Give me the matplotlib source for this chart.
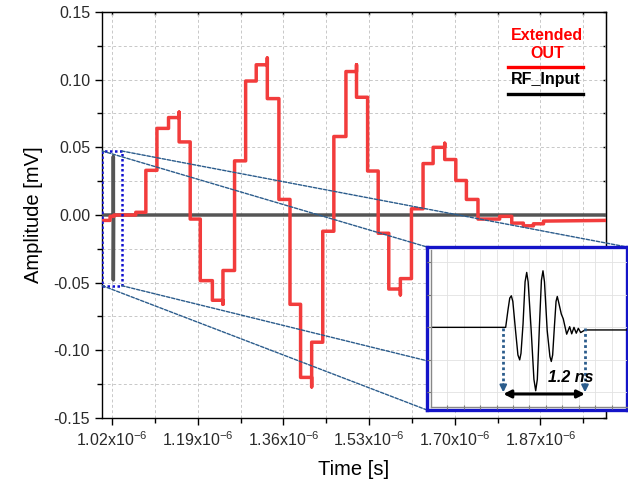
import numpy as np
import matplotlib.pyplot as plt
from matplotlib.ticker import FixedLocator, FormatStrFormatter, NullFormatter
from matplotlib.patches import Rectangle, ConnectionPatch

plt.rcParams['font.family'] = ['Liberation Sans', 'DejaVu Sans']
plt.rcParams['mathtext.fontset'] = 'custom'
plt.rcParams['mathtext.rm'] = 'Liberation Sans'
plt.rcParams['mathtext.default'] = 'regular'
plt.rcParams['axes.unicode_minus'] = False

# Extended OUT (step waveform), time in us, amplitude in mV
out_t = [1.000, 1.016, 1.016, 1.024, 1.024, 1.067, 1.067, 1.087, 1.087, 1.109,
         1.109, 1.132, 1.132, 1.153, 1.153, 1.153, 1.175, 1.175, 1.195, 1.195,
         1.219, 1.219, 1.240, 1.240, 1.240, 1.263, 1.263, 1.285, 1.285, 1.306,
         1.306, 1.328, 1.328, 1.328, 1.351, 1.351, 1.373, 1.373, 1.394, 1.394,
         1.416, 1.416, 1.416, 1.438, 1.438, 1.460, 1.460, 1.484, 1.484, 1.505,
         1.505, 1.505, 1.527, 1.527, 1.548, 1.548, 1.569, 1.569, 1.592, 1.592,
         1.592, 1.614, 1.614, 1.637, 1.637, 1.657, 1.657, 1.680, 1.680, 1.680,
         1.702, 1.702, 1.723, 1.723, 1.746, 1.746, 1.789, 1.789, 1.813, 1.813,
         1.836, 1.836, 1.856, 1.856, 1.876, 1.876, 2.000]
out_v = [-0.004, -0.004, -0.001, -0.001, 0.000, 0.000, 0.002, 0.002, 0.033, 0.033,
         0.064, 0.064, 0.072, 0.072, 0.076, 0.054, 0.054, -0.003, -0.003, -0.0485,
         -0.0485, -0.063, -0.063, -0.066, -0.041, -0.041, 0.040, 0.040, 0.099, 0.099,
         0.111, 0.111, 0.116, 0.086, 0.086, 0.0115, 0.0115, -0.066, -0.066, -0.120,
         -0.120, -0.127, -0.094, -0.094, -0.012, -0.012, 0.058, 0.058, 0.106, 0.106,
         0.111, 0.087, 0.087, 0.0325, 0.0325, -0.0135, -0.0135, -0.0547, -0.0547, -0.059,
         -0.047, -0.047, 0.0046, 0.0046, 0.038, 0.038, 0.050, 0.050, 0.053, 0.041,
         0.041, 0.0255, 0.0255, 0.0115, 0.0115, -0.003, -0.003, -0.001, -0.001, -0.006,
         -0.006, -0.008, -0.008, -0.0065, -0.0065, -0.0045, -0.004]

# RF input (compressed pulse at this time scale)
rf_t = [1.000, 1.0225, 1.0225, 1.0225, 1.0230, 2.000]
rf_v = [0.0, 0.0, 0.043, -0.048, 0.0, 0.0]

# zoom box around the RF pulse
box_t = [1.0005, 1.039]
box_v = [-0.0522, 0.0473]

# inset: RF pulse in ns, arbitrary units
pulse_t = [-1.07, 0.035, 0.07, 0.095, 0.118, 0.14, 0.18, 0.215, 0.241, 0.26,
           0.29, 0.32, 0.344, 0.365, 0.41, 0.45, 0.476, 0.50, 0.53, 0.56,
           0.583, 0.605, 0.645, 0.685, 0.705, 0.725, 0.75, 0.775, 0.793, 0.81,
           0.852, 0.881, 0.931, 0.975, 1.005, 1.038, 1.072, 1.102, 1.137, 1.20, 1.82]
pulse_v = [0.0, 0.0, 0.55, 0.90, 0.97, 0.80, -0.10, -0.85, -1.00, -0.80,
           0.10, 1.40, 1.69, 1.40, -0.10, -1.60, -1.95, -1.60, 0.00, 1.45,
           1.74, 1.40, -0.10, -0.90, -1.05, -0.85, 0.00, 0.80, 0.95, 0.80,
           0.41, 0.26, -0.21, 0.02, -0.20, 0.00, -0.18, -0.03, -0.16, -0.08, -0.08]
pulse_width = 1.2

xticks = [1.02e-6, 1.19e-6, 1.36e-6, 1.53e-6, 1.70e-6, 1.87e-6]
xlabels = [r'1.02x10$^{-6}$', r'1.19x10$^{-6}$', r'1.36x10$^{-6}$',
           r'1.53x10$^{-6}$', r'1.70x10$^{-6}$', r'1.87x10$^{-6}$']
xminor = [1.105e-6, 1.275e-6, 1.445e-6, 1.615e-6, 1.785e-6, 1.955e-6]
yticks = [-0.15, -0.10, -0.05, 0.00, 0.05, 0.10, 0.15]
yminor = [-0.125, -0.075, -0.025, 0.025, 0.075, 0.125]

fig = plt.figure(figsize=(6.28, 4.86), dpi=100)
ax = fig.add_axes([102/628, 68/486, 504/628, 406/486])

ax.plot(np.array(rf_t) * 1e-6, rf_v, color='#555555', lw=2.5, zorder=3)
ax.plot(np.array(out_t) * 1e-6, out_v, color='#f23c3c', lw=2.5, zorder=4)

ax.set_xlim(1.0e-6, 2.0e-6)
ax.set_ylim(-0.15, 0.15)
ax.xaxis.set_major_locator(FixedLocator(xticks))
ax.set_xticklabels(xlabels)
ax.xaxis.set_minor_locator(FixedLocator(xminor))
ax.yaxis.set_major_locator(FixedLocator(yticks))
ax.yaxis.set_minor_locator(FixedLocator(yminor))
ax.yaxis.set_major_formatter(FormatStrFormatter('%.2f'))
ax.tick_params(which='major', direction='out', length=5, width=1, labelsize=11.5,
               labelcolor='#2a2a2a')
ax.tick_params(which='minor', direction='out', length=3.5, width=1)
ax.grid(True, which='both', color='#c8c8c8', linestyle=(0, (3, 2.5)), lw=0.7)
for s in ax.spines.values():
    s.set_linewidth(1.0)

secx = ax.secondary_xaxis('top')
secx.xaxis.set_major_locator(FixedLocator(xticks))
secx.xaxis.set_minor_locator(FixedLocator(xminor))
secx.xaxis.set_major_formatter(NullFormatter())
secx.tick_params(which='both', direction='in', length=2.5, width=1)
secy = ax.secondary_yaxis('right')
secy.yaxis.set_major_locator(FixedLocator(yticks))
secy.yaxis.set_minor_locator(FixedLocator(yminor))
secy.yaxis.set_major_formatter(NullFormatter())
secy.tick_params(which='both', direction='in', length=2.5, width=1)

ax.set_xlabel('Time [s]', fontsize=14.5, labelpad=8)
ax.set_ylabel('Amplitude [mV]', fontsize=14.5, labelpad=8)

# legend in Origin style (text above line)
ax.text(0.883, 0.943, 'Extended', color='#ff0000', fontsize=11.5, fontweight='bold',
        ha='center', va='center', transform=ax.transAxes)
ax.text(0.883, 0.898, 'OUT', color='#ff0000', fontsize=11.5, fontweight='bold',
        ha='center', va='center', transform=ax.transAxes)
ax.plot([0.805, 0.955], [0.865, 0.865], color='#ff0000', lw=2.4, transform=ax.transAxes)
ax.text(0.881, 0.833, 'RF_Input', color='black', fontsize=11.5, fontweight='bold',
        ha='center', va='center', transform=ax.transAxes)
ax.plot([0.805, 0.955], [0.797, 0.797], color='black', lw=2.4, transform=ax.transAxes)

# dotted zoom box
ax.add_patch(Rectangle((box_t[0] * 1e-6, box_v[0]), (box_t[1] - box_t[0]) * 1e-6,
                       box_v[1] - box_v[0], fill=False, ec='#1010d0', lw=1.8,
                       linestyle=(0, (1, 1)), zorder=5))

# inset frame
axz = fig.add_axes([427/628, 76/486, 200/628, 163/486], zorder=10)
axz.set_xticks([])
axz.set_yticks([])
for s in axz.spines.values():
    s.set_color('#1414c8')
    s.set_linewidth(2.4)

corners = [((box_t[0], box_v[1]), (0, 1)), ((box_t[1], box_v[1]), (1, 1)),
           ((box_t[0], box_v[0]), (0, 0)), ((box_t[1], box_v[0]), (1, 0))]
for (bt, bv), cb in corners:
    con = ConnectionPatch(xyA=(bt * 1e-6, bv), coordsA=ax.transData,
                          xyB=cb, coordsB=axz.transAxes, color='#2b5c8c',
                          lw=1.0, linestyle=(0, (2.5, 1.2)), zorder=6)
    ax.add_artist(con)

# inset plot
axi = fig.add_axes([430.7/628, 78.7/486, 196.3/628, 157.3/486], zorder=11)
axi.patch.set_alpha(0)
axi.plot(pulse_t, pulse_v, color='black', lw=1.0)
axi.set_xlim(-1.066, 1.817)
axi.set_ylim(-2.46, 2.38)
axi.xaxis.set_major_locator(FixedLocator(np.arange(-0.82, 1.8, 0.241)))
axi.yaxis.set_major_locator(FixedLocator([-2, -1, 0, 1, 2]))
axi.set_xticklabels([])
axi.set_yticklabels([])
axi.tick_params(axis='y', direction='out', length=3, color='#777777')
axi.tick_params(axis='x', direction='inout', length=3, color='#777777')
axi.grid(True, color='#e2e2e2', lw=0.6)
for side in ['top', 'right']:
    axi.spines[side].set_visible(False)
for side in ['left', 'bottom']:
    axi.spines[side].set_color('#888888')
    axi.spines[side].set_linewidth(1.0)

# 1.2 ns markers
for tm in [0.0, pulse_width]:
    axi.plot([tm, tm], [-0.02, -1.8], color='#2b5c8c', lw=2, linestyle=(0, (1, 1)))
    axi.annotate('', xy=(tm, -2.0), xytext=(tm, -1.75),
                 arrowprops=dict(arrowstyle='-|>', color='#2b5c8c', lw=1.5,
                                 mutation_scale=10, shrinkA=0, shrinkB=0))
axi.annotate('', xy=(pulse_width, -2.05), xytext=(0.0, -2.05),
             arrowprops=dict(arrowstyle='<|-|>', color='black', lw=2.2,
                             mutation_scale=11, shrinkA=0, shrinkB=0))
axi.text(0.99, -1.55, '1.2 ns', fontsize=11.5, fontweight='bold', fontstyle='italic',
         ha='center', va='center')

fig.savefig('out.png', dpi=100)
